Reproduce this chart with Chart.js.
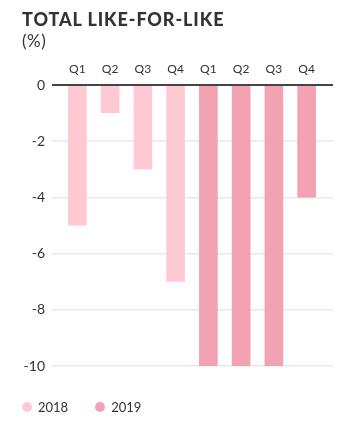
<!DOCTYPE html>
<html>
<head>
<meta charset="utf-8">
<script src="https://cdn.jsdelivr.net/npm/chart.js@4"></script>
<style>
  body { margin: 0; background: #fff; font-family: Lato, "Noto Sans", sans-serif; }
  #wrap { position: relative; width: 347px; height: 422px; }
  #title { position: absolute; left: 22px; top: 8px; color: #333; font-weight: 900; font-size: 18px; letter-spacing: 0.9px; }
  #unit { position: absolute; left: 22px; top: 30px; color: #333; font-size: 17px; letter-spacing: 0.5px; }
  #legend { position: absolute; left: 22px; top: 399px; font-size: 13px; color: #333; display: flex; }
  #legend span.item { display: flex; align-items: center; margin-right: 27px; }
  #legend span.dot { width: 10px; height: 10px; border-radius: 50%; margin-right: 6px; }
  canvas { position: absolute; left: 0; top: 0; }
</style>
</head>
<body>
<div id="wrap">
  <canvas id="chart" width="347" height="422"></canvas>
  <div id="title">TOTAL LIKE-FOR-LIKE</div>
  <div id="unit">(%)</div>
  <div id="legend"></div>
</div>
<script>
// Chart values
const quarters = ['Q1', 'Q2', 'Q3', 'Q4', 'Q1', 'Q2', 'Q3', 'Q4'];
const values2018 = [-5, -1, -3, -7, null, null, null, null];
const values2019 = [null, null, null, null, -10, -10, -10, -4];
const seriesLabels = ['2018', '2019'];
const seriesColors = ['#ffc9d4', '#f2a2b2'];

// Shrink the category band inside the chart area so grid lines overhang the bars
const insetPlugin = {
    id: 'inset',
    afterLayout(chart) {
        const x = chart.scales.x;
        x.left += 9;
        x.right -= 10;
        x.width = x.right - x.left;
        x.configure();
    }
};

const ctx = document.getElementById('chart');
const chart = new Chart(ctx, {
    type: 'bar',
    data: {
        labels: quarters,
        datasets: [
            { label: seriesLabels[0], data: values2018, backgroundColor: seriesColors[0] },
            { label: seriesLabels[1], data: values2019, backgroundColor: seriesColors[1] }
        ]
    },
    options: {
        responsive: false,
        animation: false,
        grouped: false,
        barPercentage: 0.57,
        categoryPercentage: 1,
        layout: { padding: { top: 55, bottom: 56, left: 0, right: 14 } },
        plugins: {
            legend: { display: false },
            tooltip: { enabled: false }
        },
        scales: {
            x: {
                position: 'top',
                grid: { display: false, drawTicks: false },
                border: { display: false },
                afterFit: function(scale) { scale.height = 30; },
                ticks: {
                    padding: 9,
                    color: '#333',
                    font: { family: 'Lato', size: 12 }
                }
            },
            y: {
                min: -10,
                max: 0,
                afterFit: function(scale) { scale.width = 52; },
                border: { display: false },
                grid: {
                    drawTicks: false,
                    color: function(c) { return c.tick && c.tick.value === 0 ? '#444' : '#e8e8e8'; },
                    lineWidth: function(c) { return c.tick && c.tick.value === 0 ? 2 : 1.5; }
                },
                ticks: {
                    stepSize: 2,
                    padding: 7,
                    color: '#333',
                    font: { family: 'Lato', size: 14 }
                }
            }
        }
    },
    plugins: [insetPlugin]
});

// Legend built from the datasets
const legend = document.getElementById('legend');
chart.data.datasets.forEach(ds => {
    const item = document.createElement('span');
    item.className = 'item';
    const dot = document.createElement('span');
    dot.className = 'dot';
    dot.style.background = ds.backgroundColor;
    item.appendChild(dot);
    item.appendChild(document.createTextNode(ds.label));
    legend.appendChild(item);
});
</script>
</body>
</html>
